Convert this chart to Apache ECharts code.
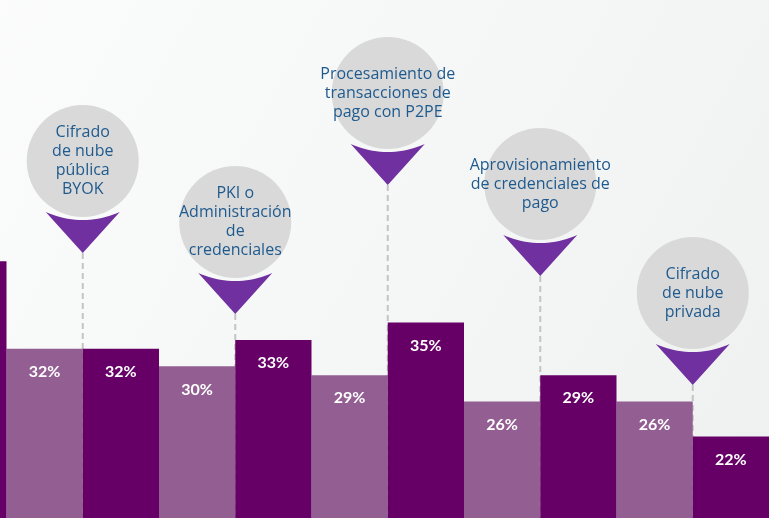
<!DOCTYPE html>
<html lang="es">
<head>
<meta charset="UTF-8">
<title>Casos de uso</title>
<script src="https://cdn.jsdelivr.net/npm/echarts@6/dist/echarts.min.js"></script>
<style>
  html, body { margin: 0; padding: 0; overflow: hidden; }
  body { width: 769px; height: 518px; position: relative; background: #f5f6f6; }
  /* el primer tema queda fuera del cuadro, por eso el lienzo empieza antes */
  #chart { position: absolute; left: -146px; top: 0; width: 915px; height: 518px; }
</style>
</head>
<body>
<div id="chart"></div>
<script>
// temas (el primero queda cortado por la izquierda)
const topics = [
  '',
  'Cifrado\nde nube\npública\nBYOK',
  'PKI o\nAdministración\nde\ncredenciales',
  'Procesamiento de\ntransacciones de\npago con P2PE',
  'Aprovisionamiento\nde credenciales de\npago',
  'Cifrado\nde nube\nprivada'
];
const lightVals = [null, 32, 30, 29, 26, 26];
const darkVals = [42, 32, 33, 35, 29, 22];

// altura (px) del centro de cada globo
const bubbleY = [null, 161, 222, 93, 184, 293];

const chart = echarts.init(document.getElementById('chart'));

function renderBubble(params, api) {
  const i = api.value(0);
  const x = api.coord([i, 0])[0];
  const cy = bubbleY[i];
  const cs = params.coordSys;
  const tipY = cy + 92;

  // triangulo con el borde de arriba curvo
  const pts = [];
  const ac = cy - 30.6, R = 89.6;
  const a0 = Math.atan2(cy + 51 - ac, -37), a1 = Math.atan2(cy + 51 - ac, 37);
  for (let k = 0; k <= 20; k++) {
    const a = a0 + (a1 - a0) * k / 20;
    pts.push([x + R * Math.cos(a), ac + R * Math.sin(a)]);
  }
  pts.push([x, tipY]);

  return {
    type: 'group',
    children: [
      {
        type: 'line',
        shape: { x1: x, y1: tipY, x2: x, y2: cs.y + cs.height },
        style: { stroke: '#c4c4c4', lineWidth: 2, lineDash: [6, 4] }
      },
      {
        type: 'circle',
        shape: { cx: x, cy: cy, r: 56 },
        style: { fill: '#d9d9d9' }
      },
      {
        type: 'polygon',
        shape: { points: pts },
        style: { fill: '#7030a0' }
      },
      {
        type: 'text',
        style: {
          text: topics[i],
          x: x,
          y: cy,
          align: 'center',
          verticalAlign: 'middle',
          fontFamily: 'Open Sans',
          fontSize: 16,
          lineHeight: 19,
          fill: '#1f5a8e'
        }
      }
    ]
  };
}

const barLabel = {
  show: true,
  position: 'insideTop',
  distance: 15,
  color: '#fff',
  fontFamily: 'Lato',
  fontWeight: 'bold',
  fontSize: 16,
  formatter: p => p.value + '%'
};

const option = {
  animation: false,
  backgroundColor: new echarts.graphic.LinearGradient(0, 0, 1, 1, [
    { offset: 0, color: '#fdfdfd' },
    { offset: 1, color: '#eff1f1' }
  ]),
  grid: { left: 0, right: 0, top: 0, bottom: 0 },
  xAxis: {
    type: 'category',
    data: topics,
    show: false
  },
  yAxis: {
    type: 'value',
    min: 12.7,
    max: 71.8,
    show: false,
    splitLine: { show: false }
  },
  series: [
    {
      type: 'custom',
      z: 1,
      renderItem: renderBubble,
      data: topics.map((t, i) => [i, darkVals[i]]).slice(1)
    },
    {
      type: 'bar',
      z: 2,
      barGap: '0%',
      barCategoryGap: '0%',
      itemStyle: { color: '#935f93' },
      label: barLabel,
      data: lightVals
    },
    {
      type: 'bar',
      z: 2,
      itemStyle: { color: '#660066' },
      label: barLabel,
      data: darkVals.map((v, i) => i === 0 ? { value: v, label: { show: false } } : v)
    }
  ]
};

chart.setOption(option);
</script>
</body>
</html>
